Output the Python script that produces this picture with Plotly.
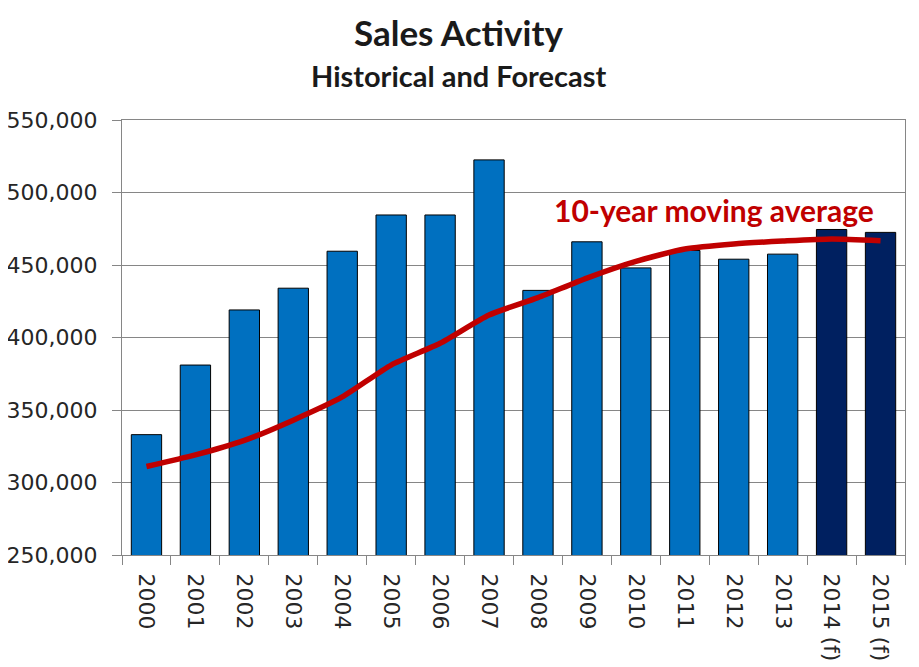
import plotly.graph_objects as go

years = ["2000", "2001", "2002", "2003", "2004", "2005", "2006", "2007",
         "2008", "2009", "2010", "2011", "2012", "2013", "2014 (f)", "2015 (f)"]
sales = [333000, 381000, 419000, 434000, 459500, 484500, 484500, 522500,
         432500, 466000, 448000, 460000, 454000, 457500, 474500, 472500]
moving_avg = [311000, 319000, 329000, 343000, 359000, 381000, 396000, 415500,
              427500, 441000, 452500, 461000, 464500, 466500, 468000, 466800]
bar_colors = ["#0070C0"] * 14 + ["#002060"] * 2

fig = go.Figure()
fig.add_bar(x=years, y=sales, marker=dict(color=bar_colors, line=dict(color="black", width=1)),
            width=0.62, showlegend=False)
fig.add_scatter(x=years, y=moving_avg, mode="lines",
                line=dict(color="#C00000", width=5.5, shape="spline", smoothing=0.6),
                showlegend=False)

fig.add_annotation(x=11.6, y=488000, text="<b>10-year moving average</b>", showarrow=False,
                   font=dict(family="Lato, sans-serif", size=30, color="#C00000"))

# titles, placed above the plot area
fig.add_annotation(x=0.43, xref="paper", y=1, yref="paper", yanchor="middle", yshift=88,
                   text="<b>Sales Activity</b>", showarrow=False,
                   font=dict(family="Lato, sans-serif", size=35, color="#1a1a1a"))
fig.add_annotation(x=0.43, xref="paper", y=1, yref="paper", yanchor="middle", yshift=45,
                   text="<b>Historical and Forecast</b>", showarrow=False,
                   font=dict(family="Lato, sans-serif", size=29, color="#1a1a1a"))

fig.update_layout(
    width=919, height=667,
    margin=dict(l=114, r=22, t=112, b=120, autoexpand=False),
    paper_bgcolor="white", plot_bgcolor="white",
    font=dict(family="DejaVu Sans, sans-serif", size=22, color="#262626"),
)
fig.update_xaxes(type="category", tickangle=90, ticks="outside", ticklen=9, tickcolor="#868686",
                 tickson="boundaries", showline=True, linecolor="#868686", mirror=True,
                 showgrid=False, automargin=False, ticklabelstandoff=13)
fig.update_yaxes(range=[250000, 550000], dtick=50000, tickformat=",", showgrid=True,
                 gridcolor="#868686", showline=True, linecolor="#868686", mirror=True,
                 ticks="outside", ticklen=9, tickcolor="#868686", zeroline=False,
                 automargin=False, ticklabelstandoff=10)

fig.write_html("out.html")
